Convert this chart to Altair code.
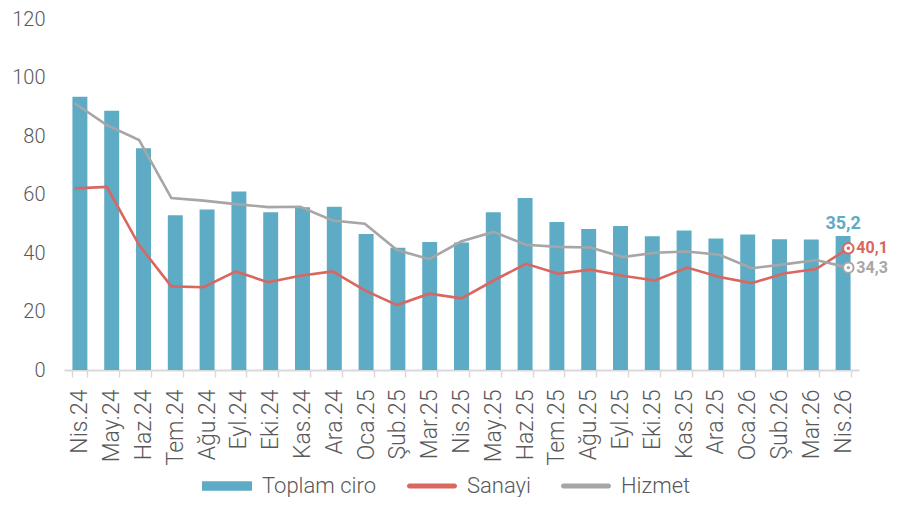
import altair as alt
import pandas as pd

months = ["Nis.24", "May.24", "Haz.24", "Tem.24", "Ağu.24", "Eyl.24", "Eki.24", "Kas.24", "Ara.24",
          "Oca.25", "Şub.25", "Mar.25", "Nis.25", "May.25", "Haz.25", "Tem.25", "Ağu.25", "Eyl.25",
          "Eki.25", "Kas.25", "Ara.25", "Oca.26", "Şub.26", "Mar.26", "Nis.26"]
toplam = [93.4, 88.6, 75.8, 52.9, 54.9, 61.0, 53.9, 55.6, 55.8, 46.5, 41.8, 43.8, 43.6,
          53.9, 58.8, 50.6, 48.2, 49.2, 45.7, 47.7, 45.0, 46.3, 44.7, 44.6, 45.8]
sanayi = [62.1, 62.6, 42.7, 28.6, 28.3, 33.7, 30.0, 32.2, 33.7, 27.2, 22.2, 26.1, 24.5,
          30.6, 36.3, 32.9, 34.3, 32.2, 30.6, 35.0, 31.8, 29.7, 33.0, 34.5, 41.6]
hizmet = [91.2, 83.7, 78.6, 58.8, 57.9, 56.7, 55.7, 55.8, 51.1, 50.0, 41.0, 37.9, 44.0,
          47.2, 42.8, 42.1, 41.9, 38.6, 40.1, 40.5, 39.4, 34.8, 36.1, 37.6, 35.0]
series_names = ["Toplam ciro", "Sanayi", "Hizmet"]
series_colors = ["#5eabc5", "#d9665f", "#a6a6a6"]
last_labels = ["35,2", "40,1", "34,3"]
y_ticks = [0, 20, 40, 60, 80, 100, 120]

FONT = "Roboto"
TEXT = "#595959"

rows = []
for name, vals in zip(series_names, [toplam, sanayi, hizmet]):
    for m, v in zip(months, vals):
        rows.append({"month": m, "series": name, "value": v})
df = pd.DataFrame(rows)

lab = pd.DataFrame({
    "month": [months[-1]] * 3,
    "series": series_names,
    "value": [toplam[-1], sanayi[-1], hizmet[-1]],
    "text": last_labels,
})

color_scale = alt.Scale(domain=series_names, range=series_colors)
bar_scale = alt.Scale(domain=months, paddingInner=0.53, paddingOuter=0.265)

x_bar = alt.X("month:N", sort=months, scale=bar_scale,
              axis=alt.Axis(title=None, labelAngle=-90, tickBand="extent", domainColor="#d9d9d9",
                            domainWidth=2, tickColor="#d9d9d9", tickWidth=1.5, tickSize=7,
                            labelPadding=12, labelFontSize=23, labelColor=TEXT, labelFont=FONT,
                            labelFontWeight=300))
x_bar_plain = alt.X("month:N", sort=months, scale=bar_scale, axis=None)
x_line = alt.X("month:N", sort=months,
               scale=alt.Scale(type="point", domain=months, padding=0.33),
               axis=None)
y = alt.Y("value:Q", scale=alt.Scale(domain=[0, 120], nice=False),
          axis=alt.Axis(title=None, values=y_ticks, domain=False, ticks=False, grid=False,
                        labelPadding=19, labelFontSize=20, labelColor=TEXT, labelFont=FONT,
                        labelFontWeight=300))

RECT = "M-1,-0.19H1V0.19H-1Z"
PILL = "M-0.9,-0.1H0.9A0.1,0.1,0,0,1,0.9,0.1H-0.9A0.1,0.1,0,0,1,-0.9,-0.1Z"
legend = alt.Legend(
    orient="none", legendX=138, legendY=442, direction="horizontal", title=None,
    symbolSize=2500,
    symbolType={"expr": f"datum.value === 'Toplam ciro' ? '{RECT}' : '{PILL}'"},
    symbolFillColor={"expr": "scale('color', datum.value)"},
    symbolStrokeWidth=0, symbolOpacity=1,
    labelFontSize=22, labelColor=TEXT,
    labelFont=FONT, labelFontWeight=300, columnPadding=30, labelOffset=10,
)

base = alt.Chart(df)

bars = base.transform_filter(alt.datum.series == "Toplam ciro").mark_bar().encode(
    x=x_bar, y=y, color=alt.Color("series:N", scale=color_scale, legend=legend))

lines = base.transform_filter(alt.datum.series != "Toplam ciro").mark_line(strokeWidth=2.6).encode(
    x=x_line, y=y, color=alt.Color("series:N", scale=color_scale, legend=legend))

lab_base = alt.Chart(lab)
pts = lab_base.transform_filter(alt.datum.series != "Toplam ciro").mark_point(
    shape="circle", filled=True, fill="white", size=110, strokeWidth=2, opacity=1).encode(
    x=x_line, y=y, stroke=alt.Stroke("series:N", scale=color_scale, legend=None))
dots = lab_base.transform_filter(alt.datum.series != "Toplam ciro").mark_circle(
    size=12, opacity=1).encode(
    x=x_line, y=y, color=alt.Color("series:N", scale=color_scale, legend=None))

txt_bar = lab_base.transform_filter(alt.datum.series == "Toplam ciro").mark_text(
    dy=-12, fontSize=18, fontWeight="bold", font=FONT).encode(
    x=x_bar_plain, y=y, text="text:N", color=alt.Color("series:N", scale=color_scale, legend=None))
txt_line = lab_base.transform_filter(alt.datum.series != "Toplam ciro").mark_text(
    dx=8, align="left", baseline="middle", fontSize=16, fontWeight="bold", font=FONT).encode(
    x=x_line, y=y, text="text:N", color=alt.Color("series:N", scale=color_scale, legend=None))

chart = alt.layer(bars, lines, pts, dots, txt_bar, txt_line).resolve_scale(
    x="independent"
).properties(
    width=795, height=351,
    autosize=alt.AutoSizeParams(type="none"),
    padding={"left": 56, "top": 11, "right": 31, "bottom": 127},
).configure(font=FONT, background="white").configure_view(stroke=None)

chart.save("out.html", embed_options={"renderer": "svg", "actions": False})
